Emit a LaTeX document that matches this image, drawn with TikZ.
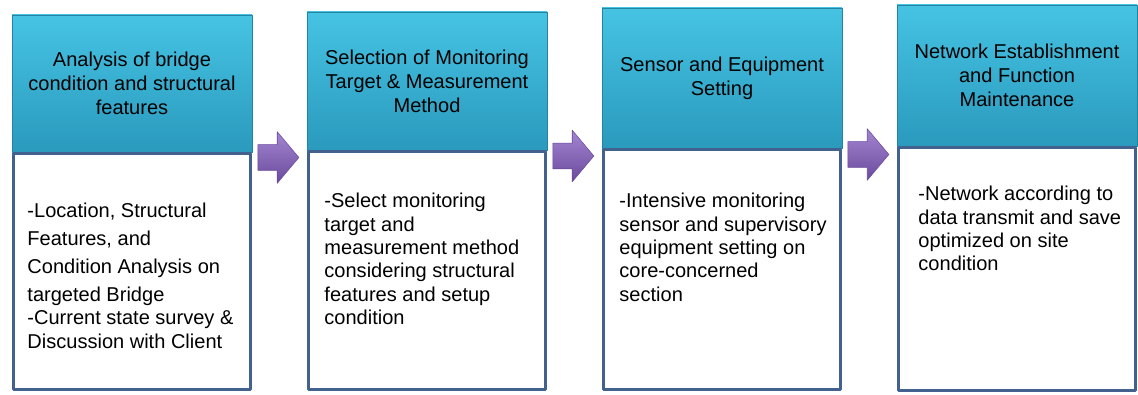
\documentclass[tikz,border=0pt]{standalone}
\usepackage{fontspec}
\setmainfont{Liberation Sans}
\usetikzlibrary{positioning,shapes.arrows}
\definecolor{headtop}{HTML}{46C3E3}
\definecolor{headbot}{HTML}{2A9ABD}
\definecolor{boxline}{HTML}{42618F}
\definecolor{arrtop}{HTML}{A386D2}
\definecolor{arrbot}{HTML}{6A4A9C}
\tikzset{
	head/.style={rectangle,minimum width=4.8cm,inner sep=2pt,align=center,top color=headtop,bottom color=headbot,draw=headbot!85!black,line width=0.4pt,font=\fontsize{11.4}{13.7}\selectfont},
	body/.style={rectangle,minimum width=4.74cm,draw=boxline,line width=1.6pt,fill=white},
	txt/.style={anchor=north west,inner sep=0pt,align=left,font=\fontsize{11.4}{13.3}\selectfont},
	flow/.style={single arrow,minimum height=0.82cm,minimum width=1.02cm,single arrow head extend=0.26cm,single arrow tip angle=100,inner xsep=0pt,inner ysep=0.25cm,top color=arrtop,bottom color=arrbot,draw=arrbot,line width=0.3pt}
}
\begin{document}
\begin{tikzpicture}[line join=round]
	
	\fill[white] (0,0) rectangle (22.76,7.88);
	% headers
	\node[head,minimum height=2.74cm] (head1) at (2.64,6.21) {Analysis of bridge\\condition and structural\\features};
	\node[head,minimum height=2.76cm] (head2) at (8.54,6.26) {Selection of Monitoring\\Target \& Measurement\\Method};
	\node[head,minimum height=2.80cm] (head3) at (14.44,6.32) {Sensor and Equipment\\Setting};
	\node[head,minimum height=2.82cm] (head4) at (20.34,6.37) {Network Establishment\\and Function\\Maintenance};
	% boxes
	\node[body,minimum height=4.72cm,below=0pt of head1] (body1) {};
	\node[body,minimum height=4.76cm,below=0pt of head2] (body2) {};
	\node[body,minimum height=4.80cm,below=0pt of head3] (body3) {};
	\node[body,minimum height=4.86cm,below=0pt of head4] (body4) {};
	% texts
	\node[txt] (text1) at ([xshift=0.30cm,yshift=-1.01cm]body1.north west) {-Location, Structural\\[0.09cm]Features, and\\[0.09cm]Condition Analysis on\\[0.09cm]targeted Bridge\\-Current state survey \&\\Discussion with Client};
	\node[txt] (text2) at ([xshift=0.34cm,yshift=-0.85cm]body2.north west) {-Select monitoring\\target and\\measurement method\\considering structural\\features and setup\\condition};
	\node[txt] (text3) at ([xshift=0.34cm,yshift=-0.89cm]body3.north west) {-Intensive monitoring\\sensor and supervisory\\equipment setting on\\core-concerned\\section};
	\node[txt] (text4) at ([xshift=0.42cm,yshift=-0.79cm]body4.north west) {-Network according to\\data transmit and save\\optimized on site\\condition};
	% arrows
	\node[flow] (arr1) at (5.46,4.73) {};
	\node[flow] (arr2) at (11.36,4.76) {};
	\node[flow] (arr3) at (17.26,4.79) {};
\end{tikzpicture}
\end{document}
